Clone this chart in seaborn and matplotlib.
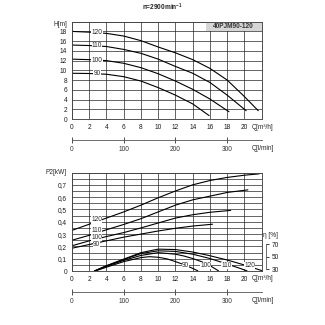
import matplotlib
matplotlib.use('Agg')
import numpy as np
import pandas as pd
import matplotlib.pyplot as plt
import seaborn as sns
from matplotlib.patches import Rectangle
from matplotlib.ticker import FuncFormatter, MultipleLocator

# ---------------- data ----------------
speed_labels = ['120', '110', '100', '90']

# H [m] vs Q [m3/h]
q_h_120 = [0, 2, 4, 6, 8, 10, 12, 14, 16, 18, 20, 21.6]
h_120 = [18.0, 17.85, 17.6, 17.05, 16.1, 14.8, 13.6, 12.2, 10.4, 8.0, 4.6, 1.7]
q_h_110 = [0, 2, 4, 6, 8, 10, 12, 14, 16, 18, 20.2]
h_110 = [15.2, 15.1, 14.9, 14.3, 13.5, 12.3, 10.8, 9.4, 7.5, 4.9, 1.7]
q_h_100 = [0, 2, 4, 6, 8, 10, 12, 14, 16, 18.2]
h_100 = [12.3, 12.2, 12.0, 11.45, 10.55, 9.3, 7.8, 6.1, 4.1, 1.5]
q_h_90 = [0, 2, 4, 6, 8, 10, 12, 14, 15.9]
h_90 = [9.4, 9.35, 9.2, 8.7, 7.8, 6.45, 4.9, 3.1, 0.7]

# P2 [kW] vs Q
q_p_120 = [0, 2, 4, 6, 8, 10, 12, 14, 16, 18, 20, 21.7]
p_120 = [0.33, 0.38, 0.43, 0.48, 0.535, 0.595, 0.65, 0.70, 0.735, 0.76, 0.778, 0.789]
q_p_110 = [0, 2, 4, 6, 8, 10, 12, 14, 16, 18, 20.4]
p_110 = [0.25, 0.29, 0.335, 0.378, 0.425, 0.48, 0.535, 0.578, 0.608, 0.638, 0.659]
q_p_100 = [0, 2, 4, 6, 8, 10, 12, 14, 16, 18.4]
p_100 = [0.205, 0.245, 0.28, 0.312, 0.35, 0.39, 0.43, 0.457, 0.477, 0.492]
q_p_90 = [0, 2, 4, 6, 8, 10, 12, 14, 16.3]
p_90 = [0.185, 0.215, 0.245, 0.275, 0.30, 0.325, 0.347, 0.365, 0.38]
p_label_y = [0.415, 0.33, 0.272, 0.215]

# efficiency [%] vs Q
q_e_120 = [2.6, 4, 6, 8, 10, 12, 14, 16, 18, 20, 22]
e_120 = [26.8, 35.5, 46, 56.5, 62.2, 61.5, 57.5, 51.5, 44.6, 36.5, 27.5]
q_e_110 = [2.6, 4, 6, 8, 10, 12, 14, 16, 18, 19.5, 20.3]
e_110 = [26.8, 35, 45.5, 55, 59.5, 58.5, 54, 47, 38, 31, 27]
q_e_100 = [2.6, 4, 6, 8, 10, 12, 13, 14, 15, 16, 17]
e_100 = [26.8, 34.5, 44, 52, 56.5, 54, 51, 47, 42, 35.5, 27]
q_e_90 = [2.7, 4, 6, 8, 9, 10, 11, 12, 13, 14, 14.6]
e_90 = [26.8, 33, 42, 48.5, 50, 49, 46.5, 42, 37, 31, 27]

q_ticks = [0, 2, 4, 6, 8, 10, 12, 14, 16, 18, 20]
h_ticks = [0, 2, 4, 6, 8, 10, 12, 14, 16, 18]
p_ticks = [0, 0.1, 0.2, 0.3, 0.4, 0.5, 0.6, 0.7]
lmin_ticks = [0, 100, 200, 300]
eta_ticks = [30, 50, 70]
eff_label_q = [20.6, 17.9, 15.5, 13.15]

title = 'n=2900min$^{\\mathregular{-1}}$'
model = '40PJM90-120'

H_curves = [(q_h_120, h_120), (q_h_110, h_110), (q_h_100, h_100), (q_h_90, h_90)]
P_curves = [(q_p_120, p_120), (q_p_110, p_110), (q_p_100, p_100), (q_p_90, p_90)]
E_curves = [(q_e_120, e_120), (q_e_110, e_110), (q_e_100, e_100), (q_e_90, e_90)]

# ---------------- style ----------------
sns.set_style('white')
plt.rcParams['font.family'] = ['Liberation Sans Narrow', 'Liberation Sans', 'DejaVu Sans']
FS = 4.7
GRID = '#262626'
LINE = '#000000'
LW = 0.8
box = dict(facecolor='white', edgecolor='none', pad=0.15)

W = H = 325.0
fig = plt.figure(figsize=(3.25, 3.25), dpi=100)


def rect(l, t, r, b):
    return [l / W, 1 - b / H, (r - l) / W, (b - t) / H]


ax1 = fig.add_axes(rect(72, 21.7, 261.7, 119))
ax2 = fig.add_axes(rect(72, 172.5, 261.7, 271))

for ax in (ax1, ax2):
    ax.set_xlim(0, 22)
    ax.set_xticks(q_ticks)
    ax.xaxis.set_minor_locator(MultipleLocator(2))
    ax.set_axisbelow(True)
    ax.grid(which='both', axis='both', color=GRID, lw=0.5)
    ax.tick_params(which='both', length=0, labelsize=FS, pad=3.5, colors='#1a1a1a')
    for s in ax.spines.values():
        s.set_color('#444444')
        s.set_linewidth(0.65)

# ---------- top chart ----------
ax1.set_ylim(0, 20)
ax1.set_yticks(h_ticks)
ax1.yaxis.set_minor_locator(MultipleLocator(2))
for (q, h), lab in zip(H_curves, speed_labels):
    sns.lineplot(x=q, y=h, ax=ax1, color=LINE, lw=LW, sort=False, estimator=None)
    ax1.text(2.9, np.interp(2.9, q, h), lab, fontsize=FS, ha='center', va='center',
             bbox=box, zorder=4)
ax1.set_xlabel('')
ax1.set_ylabel('')
ax1.add_patch(Rectangle((15.5, 18), 6.5, 2, facecolor='#d6d6d6', edgecolor='none', zorder=1.5))
ax1.text(18.75, 19, model, fontsize=FS, fontweight='bold', color='#333333',
         ha='center', va='center', zorder=4)
ax1.text(-0.025, 19.5, 'H[m]', transform=ax1.get_yaxis_transform(), fontsize=FS,
         ha='right', va='center')
ax1.text(20.8, -0.085, 'Q[m³/h]', transform=ax1.get_xaxis_transform(), fontsize=FS,
         ha='left', va='center')
fig.text(162 / W, 1 - 7 / H, title, fontsize=FS, fontweight='bold', ha='center', va='center')

to_lmin = (lambda x: x * 1000.0 / 60.0, lambda x: x * 60.0 / 1000.0)
for ax, loc in ((ax1, -0.215), (ax2, -0.21)):
    sec = ax.secondary_xaxis(loc, functions=to_lmin)
    sec.set_xticks(lmin_ticks)
    sec.tick_params(direction='inout', length=4, width=0.6, labelsize=FS, pad=2.5,
                    colors='#333333')
    sec.spines['bottom'].set_color('#555555')
    sec.spines['bottom'].set_linewidth(0.6)
    ax.text(20.8, loc - 0.09, 'Q[l/min]', transform=ax.get_xaxis_transform(),
            fontsize=FS, ha='left', va='center')

# ---------- bottom chart ----------
ax2.set_ylim(0, 0.8)
ax2.set_yticks(p_ticks)
ax2.yaxis.set_minor_locator(MultipleLocator(0.05))
ax2.yaxis.set_major_formatter(FuncFormatter(lambda v, p: ('%g' % round(v, 2)).replace('.', ',')))
for (q, pw), lab, ly in zip(P_curves, speed_labels, p_label_y):
    sns.lineplot(x=q, y=pw, ax=ax2, color=LINE, lw=LW, sort=False, estimator=None)
    ax2.text(2.85, ly, lab, fontsize=FS, ha='center', va='center',
             bbox=box, zorder=4)
ax2.set_xlabel('')
ax2.set_ylabel('')
ax2.text(-0.03, 1.0, 'P2[kW]', transform=ax2.transAxes, fontsize=FS, ha='right', va='center')
ax2.text(20.8, -0.075, 'Q[m³/h]', transform=ax2.get_xaxis_transform(), fontsize=FS,
         ha='left', va='center')

ax3 = ax2.twinx()
ax3.set_ylim(26.8, 186.2)
ax3.set_xlim(0, 22)
for side in ('left', 'top', 'bottom'):
    ax3.spines[side].set_visible(False)
ax3.spines['right'].set_position(('outward', 3))
ax3.spines['right'].set_bounds(30, 70)
ax3.spines['right'].set_color('#555555')
ax3.spines['right'].set_linewidth(0.6)
ax3.set_yticks(eta_ticks)
ax3.tick_params(axis='y', length=2, width=0.6, labelsize=FS, pad=2, colors='#1a1a1a')
ax3.grid(False)
for (q, e), lab, ql in zip(E_curves, speed_labels, eff_label_q):
    sns.lineplot(x=q, y=e, ax=ax3, color=LINE, lw=LW, sort=False, estimator=None)
    ax3.text(ql, 35.5, lab, fontsize=FS, ha='center', va='center', bbox=box, zorder=4)
ax3.set_xlabel('')
ax3.set_ylabel('')
ax3.text(1.005, 85, 'η [%]', transform=ax3.get_yaxis_transform(), fontsize=FS,
         ha='left', va='center')

fig.savefig('out.png', dpi=100)
